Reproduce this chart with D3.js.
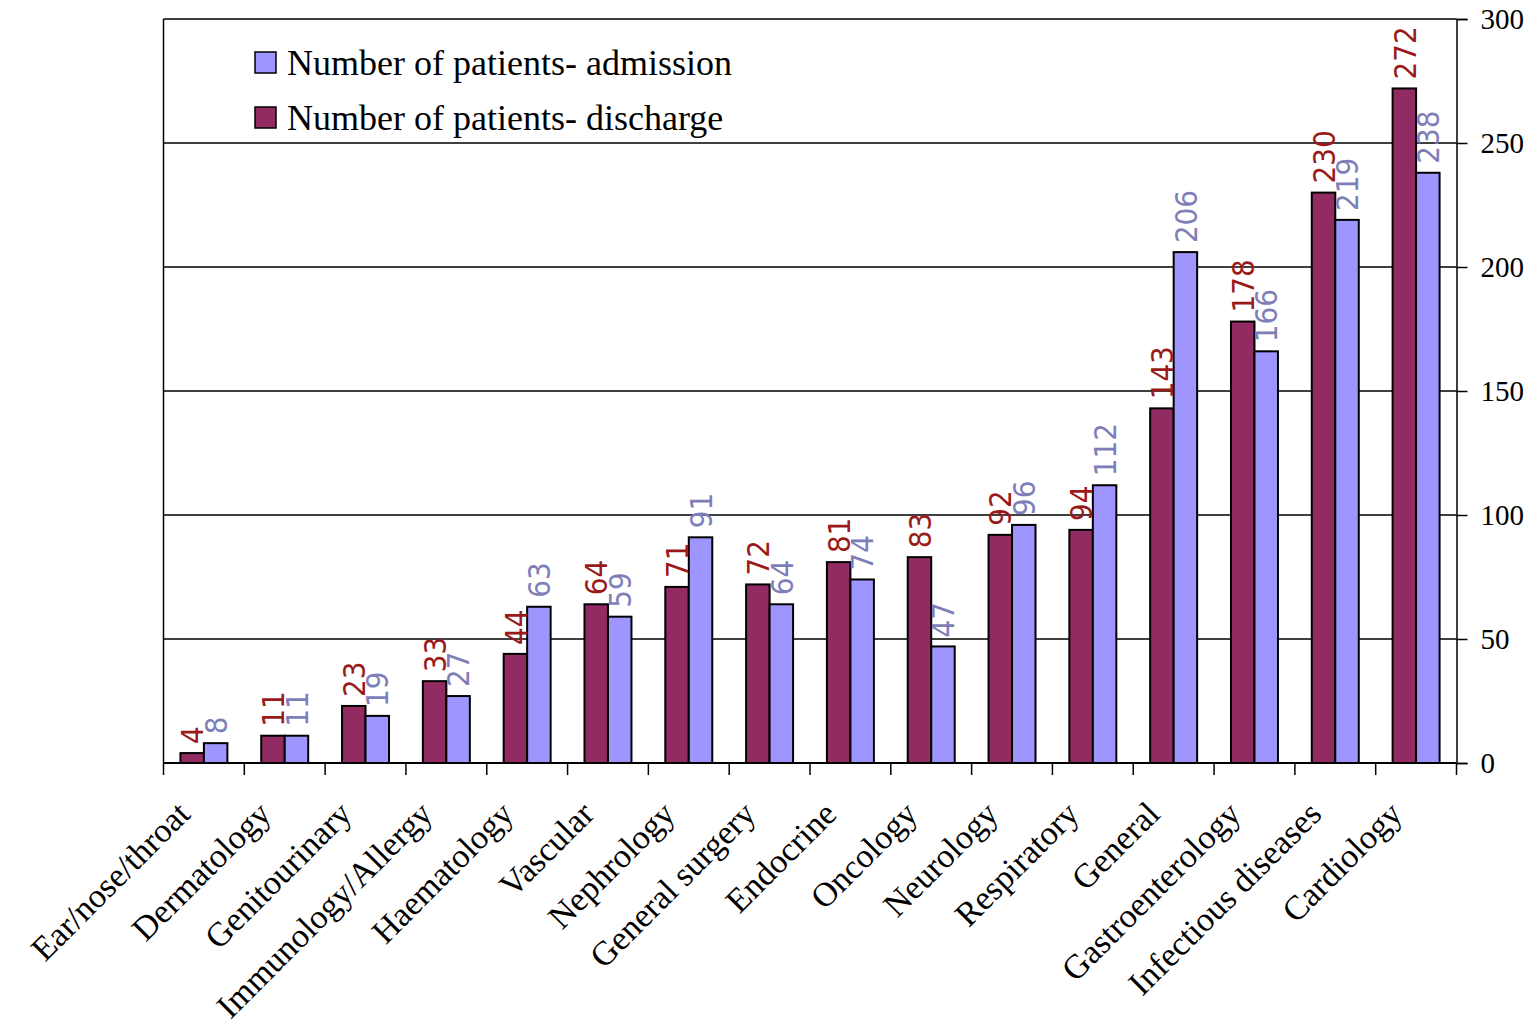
<!DOCTYPE html>
<html>
<head>
<meta charset="utf-8">
<script src="https://cdn.jsdelivr.net/npm/d3@7"></script>
<style>
body { margin: 0; background: #fff; }
</style>
</head>
<body>
<div id="viz"></div>
<script>
var categories = ["Ear/nose/throat", "Dermatology", "Genitourinary", "Immunology/Allergy", "Haematology",
	"Vascular", "Nephrology", "General surgery", "Endocrine", "Oncology", "Neurology", "Respiratory",
	"General", "Gastroenterology", "Infectious diseases", "Cardiology"];
var discharge = [4, 11, 23, 33, 44, 64, 71, 72, 81, 83, 92, 94, 143, 178, 230, 272];
var admission = [8, 11, 19, 27, 63, 59, 91, 64, 74, 47, 96, 112, 206, 166, 219, 238];
var yTicks = [0, 50, 100, 150, 200, 250, 300];
var seriesNames = ["Number of patients- admission", "Number of patients- discharge"];

var width = 1534, height = 1032
var plot = {left: 163.5, right: 1456.5, top: 19, bottom: 763}
var serif = "'Liberation Serif', 'Times New Roman', serif"
var labelFont = "'Liberation Sans Narrow', 'Arial Narrow', 'DejaVu Sans Condensed', sans-serif"
var barColors = {discharge: "#922B62", admission: "#9F95FF"}
var textColors = {discharge: "#9A1A1A", admission: "#7E7EB8"}

var svg = d3.select("#viz").append("svg")
	.attr("width", width)
	.attr("height", height);

var x = d3.scaleBand().domain(categories).range([plot.left, plot.right]).paddingInner(0).paddingOuter(0);
var x1 = d3.scaleBand().domain(["discharge", "admission"]).range([0, x.bandwidth()]).paddingInner(0).paddingOuter(0.72);
var y = d3.scaleLinear().domain([0, 300]).range([plot.bottom, plot.top]);

// gridlines
svg.append("g").selectAll("line").data(yTicks.filter(function(d){return d > 0}))
	.enter().append("line")
	.attr("x1", plot.left).attr("x2", plot.right)
	.attr("y1", function(d){return y(d)}).attr("y2", function(d){return y(d)})
	.attr("stroke", "#000").attr("stroke-width", 1.5);

// left border
svg.append("line")
	.attr("x1", plot.left).attr("x2", plot.left)
	.attr("y1", plot.top).attr("y2", plot.bottom)
	.attr("stroke", "#000").attr("stroke-width", 1.5);

// bars
var rows = categories.map(function(c, i){
	return {cat: c, discharge: discharge[i], admission: admission[i]};
});
var groups = svg.append("g").selectAll("g").data(rows).enter().append("g")
	.attr("transform", function(d){return "translate(" + x(d.cat) + ",0)"});

["discharge", "admission"].forEach(function(key){
	groups.append("rect")
		.attr("x", x1(key))
		.attr("width", x1.bandwidth())
		.attr("y", function(d){return y(d[key])})
		.attr("height", function(d){return y(0) - y(d[key])})
		.attr("fill", barColors[key])
		.attr("stroke", "#000")
		.attr("stroke-width", 2);
});

// value labels
["discharge", "admission"].forEach(function(key){
	groups.append("text")
		.attr("transform", function(d){
			return "translate(" + (x1(key) + x1.bandwidth()/2) + "," + (y(d[key]) - 9) + ") rotate(-90)";
		})
		.attr("dy", "0.36em")
		.attr("text-anchor", "start")
		.attr("font-family", labelFont)
		.attr("font-size", "31px")
		.attr("fill", textColors[key])
		.text(function(d){return d[key]});
});

// bottom axis line and ticks at category boundaries
svg.append("line")
	.attr("x1", plot.left).attr("x2", plot.right)
	.attr("y1", plot.bottom).attr("y2", plot.bottom)
	.attr("stroke", "#000").attr("stroke-width", 2);
var bounds = categories.map(function(c){return x(c)}).concat([x.range()[1]]);
svg.append("g").selectAll("line").data(bounds).enter().append("line")
	.attr("x1", function(d){return d}).attr("x2", function(d){return d})
	.attr("y1", plot.bottom).attr("y2", plot.bottom + 12)
	.attr("stroke", "#000").attr("stroke-width", 1.5);

// category labels
svg.append("g").selectAll("text").data(categories).enter().append("text")
	.attr("transform", function(d){
		return "translate(" + (x(d) + x.bandwidth()/2 - 12) + "," + (plot.bottom + 53) + ") rotate(-45)";
	})
	.attr("text-anchor", "end")
	.attr("font-family", serif)
	.attr("font-size", "34px")
	.attr("fill", "#000")
	.text(function(d){return d});

// right axis
var yAxis = d3.axisRight(y).tickValues(yTicks).tickSize(11).tickPadding(13);
var ax = svg.append("g")
	.attr("transform", "translate(" + plot.right + ",0)")
	.call(yAxis);
ax.select(".domain").attr("stroke", "#000").attr("stroke-width", 1.5);
ax.selectAll(".tick line").attr("stroke", "#000").attr("stroke-width", 1.5);
ax.selectAll(".tick text")
	.attr("font-family", serif)
	.attr("font-size", "29px")
	.attr("fill", "#000");

// legend
var legend = svg.append("g");
[["admission", 0], ["discharge", 1]].forEach(function(s){
	var ly = 63 + s[1]*55;
	legend.append("rect")
		.attr("x", 255).attr("y", ly - 11)
		.attr("width", 21).attr("height", 21)
		.attr("fill", barColors[s[0]])
		.attr("stroke", "#000").attr("stroke-width", 1.5);
	legend.append("text")
		.attr("x", 287).attr("y", ly + 12)
		.attr("font-family", serif)
		.attr("font-size", "36px")
		.attr("fill", "#000")
		.text(seriesNames[s[1]]);
});
</script>
</body>
</html>
